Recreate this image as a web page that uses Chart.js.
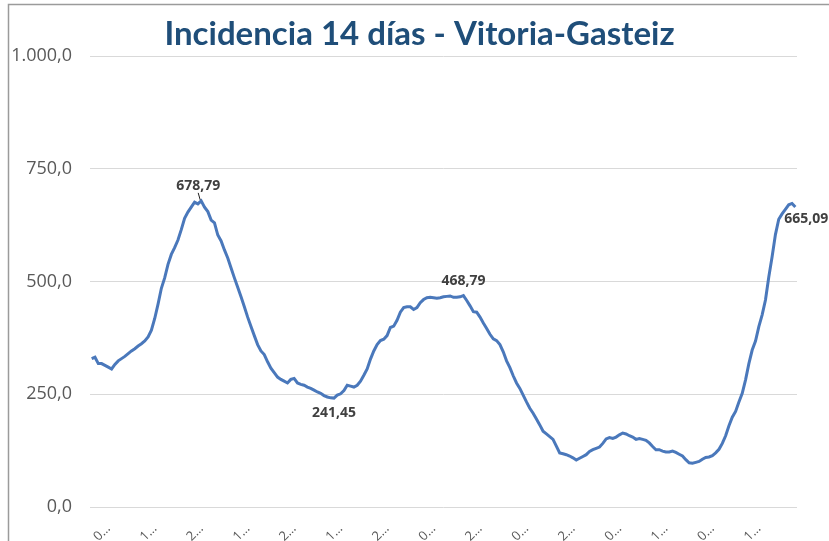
<!DOCTYPE html>
<html lang="es">
<head>
<meta charset="utf-8">
<title>Incidencia 14 días - Vitoria-Gasteiz</title>
<script src="https://cdn.jsdelivr.net/npm/chart.js@4/dist/chart.umd.min.js"></script>
<style>
  html, body { margin: 0; padding: 0; background: #fff; }
  #grafico { display: block; }
</style>
</head>
<body>
<canvas id="grafico" width="829" height="541"></canvas>
<script>
// datos (incidencia acumulada 14 días, un valor por día)
const incidencia = [
  329, 332, 318, 318, 314, 310, 306, 316, 324, 329,
  334, 340, 346, 351, 357, 362, 368, 377, 392, 418,
  450, 485, 508, 538, 560, 575, 592, 615, 640, 654,
  665, 676, 672, 678.79, 665, 655, 636, 630, 603, 590,
  570, 552, 530, 508, 487, 466, 444, 421, 400, 380,
  360, 346, 338, 322, 308, 298, 288, 283, 279, 275,
  283, 285, 275, 272, 270, 266, 263, 259, 255, 252,
  247, 244, 242, 241.45, 248, 251, 258, 270, 268, 266,
  270, 279, 292, 306, 328, 346, 360, 369, 372, 380,
  398, 401, 414, 432, 442, 444, 444, 438, 442, 453,
  460, 464, 465, 464, 463, 464, 466, 467, 468, 465,
  465, 466, 468.79, 458, 446, 433, 432, 421, 408, 396,
  383, 373, 369, 360, 344, 324, 309, 291, 275, 263,
  248, 233, 219, 208, 195, 182, 168, 162, 156, 150,
  135, 120, 118, 116, 113, 109, 104, 108, 112, 116,
  123, 127, 130, 133, 141, 151, 154, 152, 155, 160,
  164, 162, 158, 155, 150, 152, 150, 148, 142, 134,
  127, 127, 124, 122, 122, 124, 121, 117, 113, 105,
  98, 97, 99, 101, 106, 110, 111, 114, 120, 128,
  141, 158, 180, 199, 212, 233, 252, 282, 318, 348,
  368, 400, 426, 459, 510, 555, 604, 638, 650, 660,
  670, 673, 665.09
];

// etiquetas del eje X (fechas recortadas tal como aparecen), una cada 14 días
const etiquetasX = ["0…", "1…", "2…", "1…", "2…", "1…", "2…", "0…", "2…", "0…", "2…", "0…", "1…", "0…", "1…"];
const TICK_INICIO = 5;
const TICK_PASO = 14;

// eje Y
const valoresY = [0, 250, 500, 750, 1000];
const etiquetasY = ["0,0", "250,0", "500,0", "750,0", "1.000,0"];

// puntos con etiqueta de valor
const puntosEtiqueta = [33, 73, 112, 212];

const titulo = "Incidencia 14 días - Vitoria-Gasteiz";
const fmt2 = (n) => n.toFixed(2).replace(".", ",");

// marco gris + título
const marcoPlugin = {
  id: "marco",
  beforeDraw(chart) {
    const c = chart.ctx;
    c.save();
    c.fillStyle = "#ffffff";
    c.fillRect(0, 0, chart.width, chart.height);
    c.strokeStyle = "#9b9b9b";
    c.lineWidth = 1.5;
    c.beginPath();
    c.moveTo(8.5, chart.height);
    c.lineTo(8.5, 4.5);
    c.lineTo(chart.width, 4.5);
    c.stroke();
    c.restore();
  },
  afterDraw(chart) {
    const c = chart.ctx;
    c.save();
    c.font = "bold 33px Lato";
    c.fillStyle = "#1f4e79";
    c.textAlign = "center";
    c.textBaseline = "alphabetic";
    c.fillText(titulo, 419.5, 45);
    c.restore();
  }
};

// etiquetas de datos (máximos / mínimos / último)
const etiquetasPlugin = {
  id: "etiquetasDatos",
  afterDatasetsDraw(chart) {
    const c = chart.ctx;
    const meta = chart.getDatasetMeta(0);
    c.save();
    c.font = "bold 14px 'Open Sans'";
    c.fillStyle = "#404040";
    c.textBaseline = "middle";
    puntosEtiqueta.forEach((i, k) => {
      const p = meta.data[i];
      const txt = fmt2(incidencia[i]);
      if (k === puntosEtiqueta.length - 1) {
        c.textAlign = "left";
        c.fillText(txt, p.x - 11, p.y + 12);
        return;
      }
      c.textAlign = "center";
      const arriba = k !== 1;
      const dy = arriba ? -15 : 15;
      c.fillText(txt, p.x + (k === 0 ? -3 : 0), p.y + dy);
      if (k === 0) {
        c.strokeStyle = "#202020";
        c.lineWidth = 1;
        c.beginPath();
        c.moveTo(p.x - 3, p.y - 8);
        c.lineTo(p.x - 1, p.y - 1);
        c.stroke();
      }
    });
    c.restore();
  }
};

new Chart(document.getElementById("grafico"), {
  type: "line",
  data: {
    labels: incidencia.map((_, i) => i),
    datasets: [{
      label: "Incidencia 14 días",
      data: incidencia,
      borderColor: "#4a78bb",
      borderWidth: 3,
      pointRadius: 0,
      tension: 0,
      fill: false
    }]
  },
  options: {
    responsive: false,
    animation: false,
    devicePixelRatio: 1,
    layout: { padding: { top: 56, left: 8, right: 32, bottom: 0 } },
    plugins: {
      legend: { display: false },
      title: { display: false },
      tooltip: { enabled: false }
    },
    scales: {
      x: {
        offset: true,
        grid: { display: false },
        border: { display: false },
        ticks: {
          autoSkip: false,
          minRotation: 45,
          maxRotation: 45,
          padding: 6,
          color: "#595959",
          font: { family: "Open Sans", size: 13 },
          callback: (v, i) => {
            const k = i - TICK_INICIO;
            return k >= 0 && k % TICK_PASO === 0 ? etiquetasX[k / TICK_PASO] : null;
          }
        },
        afterFit: (s) => { s.height = 34; }
      },
      y: {
        min: 0,
        max: 1000,
        grid: { color: "#d9d9d9", lineWidth: 1, drawTicks: false },
        border: { display: false },
        ticks: {
          stepSize: 250,
          padding: 18,
          color: "#595959",
          font: { family: "Open Sans", size: 18 },
          callback: (v) => etiquetasY[valoresY.indexOf(v)]
        },
        afterFit: (s) => { s.width = 82; }
      }
    }
  },
  plugins: [marcoPlugin, etiquetasPlugin]
});
</script>
</body>
</html>
